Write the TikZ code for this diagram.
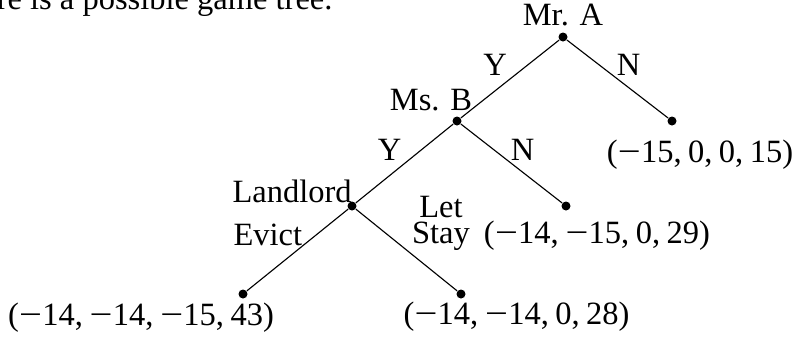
\documentclass[tikz,border=0pt]{standalone}
\usepackage{fontspec}
\setmainfont{Liberation Serif}

% long minus and comma gap of the payoff vectors
\newcommand{\mns}{\hbox to 0.72em{\hss\scalebox{1.25}[1]{−}\hss}}
\newcommand{\gap}{,\hspace{0.2em}}

\tikzset{
  dot/.style={circle,fill=black,inner sep=0pt,minimum size=3.6pt},
  lbl/.style={inner sep=0pt,anchor=base,font=\fontsize{13}{15}\selectfont},
  elbl/.style={inner sep=1pt,font=\fontsize{13}{15}\selectfont},
  branch/.style={line width=0.45pt},
}

\begin{document}
\begin{tikzpicture}[x=0.4pt,y=-0.4pt]
  \useasboundingbox (0,0) rectangle (795,341);
  \node[lbl,anchor=base east] (intro) at (333,9) {re is a possible game tree.};

  % decision nodes and leaves
  \node[dot] (mra)   at (563,37)  {};
  \node[dot] (msb)   at (457,121) {};
  \node[dot] (nA)    at (672,121) {};
  \node[dot] (land)  at (352,206) {};
  \node[dot] (nB)    at (566,206) {};
  \node[dot] (evict) at (243,294) {};
  \node[dot] (stay)  at (461,294) {};

  % players
  \node[lbl] (mralbl)  at (563,25)  {Mr. A};
  \node[lbl] (msblbl)  at (431,110) {Ms. B};
  \node[lbl,anchor=base west] (landlbl) at (232,202) {Landlord};

  % payoffs
  \node[lbl] (payA)     at (700,162) {(\mns15\gap0\gap0\gap15)};
  \node[lbl] (payB)     at (597,243) {(\mns14\gap\mns15\gap0\gap29)};
  \node[lbl] (payevict) at (141,325) {(\mns14\gap\mns14\gap\mns15\gap43)};
  \node[lbl,anchor=base west] (paystay) at (403,324) {(\mns14\gap\mns14\gap0\gap28)};

  % branches
  \draw[branch] (mra) -- node[elbl,above left]  {Y} (msb);
  \draw[branch] (mra) -- node[elbl,above right,xshift=-1.5pt] {N} (nA);
  \draw[branch] (msb) -- node[elbl,above left]  {Y} (land);
  \draw[branch] (msb) -- node[elbl,above right,xshift=-1.5pt] {N} (nB);
  \draw[branch] (land) -- (evict);
  \draw[branch] (land) -- (stay);
  \node[lbl,anchor=base west] (evictlbl) at (233,245) {Evict};
  \node[inner sep=0pt,align=center,anchor=north,
        font=\fontsize{13}{10.4}\selectfont] (letstay) at (441,196) {Let\\Stay};
\end{tikzpicture}
\end{document}
